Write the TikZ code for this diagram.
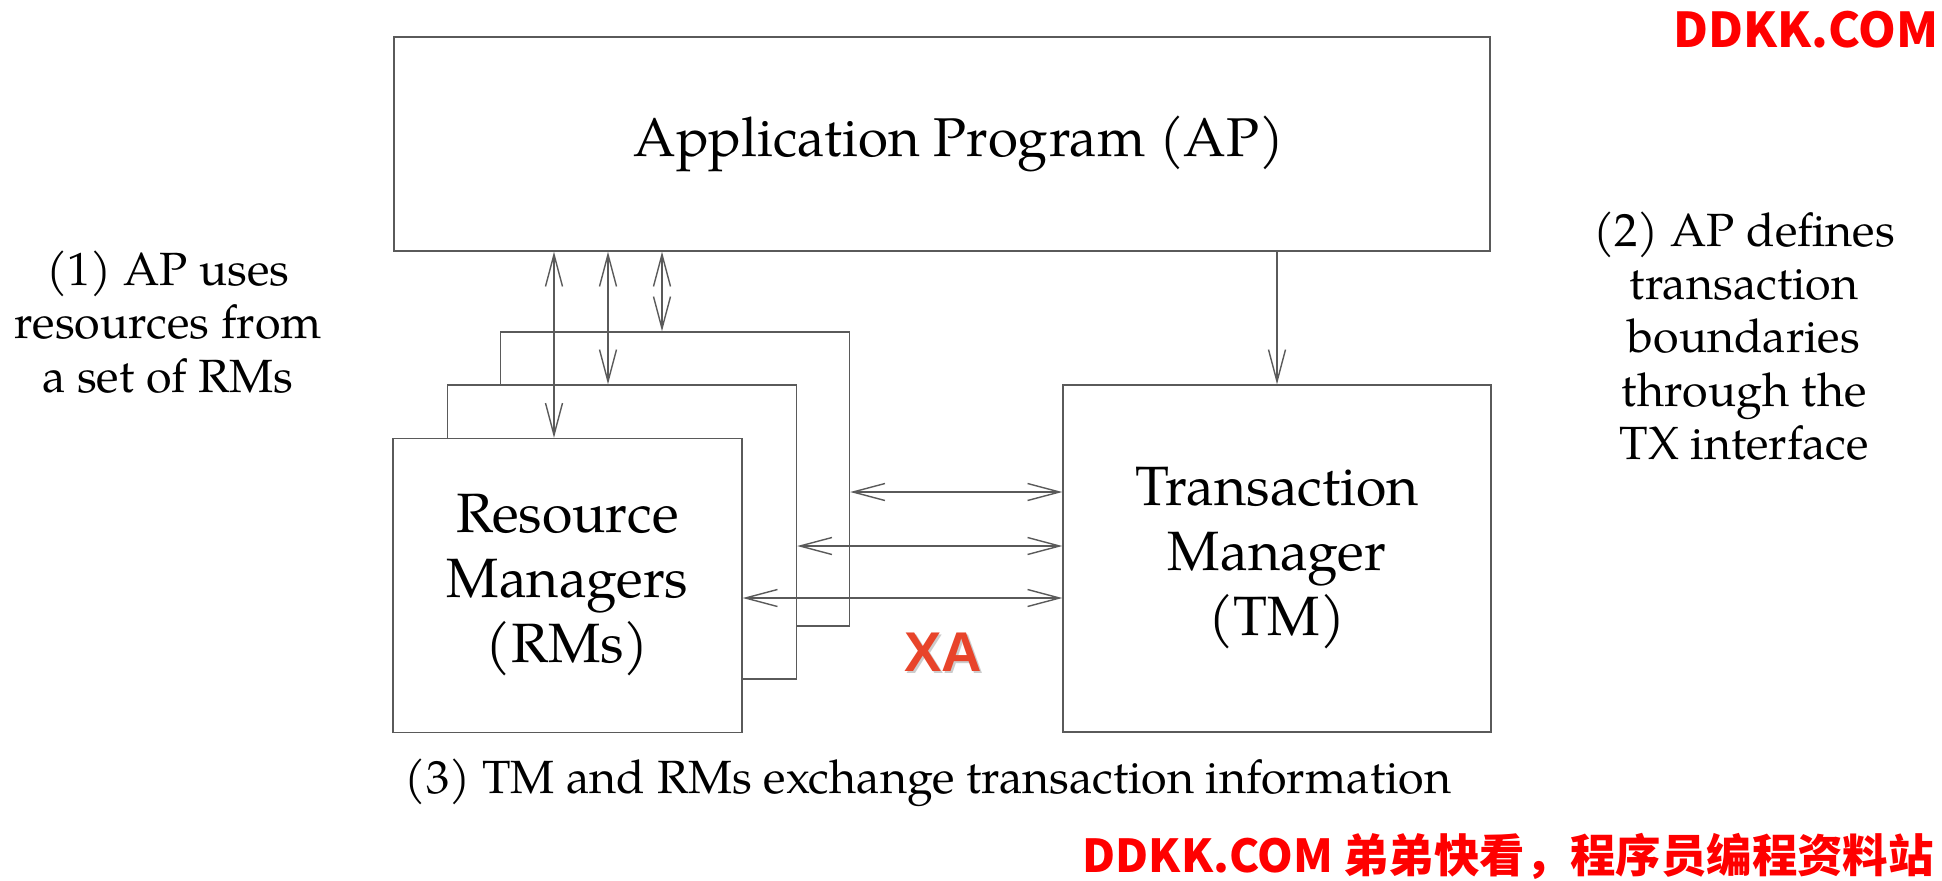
\documentclass[tikz,border=0pt]{standalone}
\usepackage{fontspec}
\setmainfont{TeX Gyre Pagella}
\newfontfamily\cjk{Noto Sans CJK SC}
\newfontfamily\xafont{Liberation Sans}
\usepackage{tikz}
\usetikzlibrary{arrows.meta,positioning}
\definecolor{xared}{RGB}{232,68,42}
\definecolor{edge}{RGB}{90,90,90}

\begin{document}
\begin{tikzpicture}[x=0.5pt,y=-0.5pt,
box/.style={draw=edge,line width=.7pt,fill=white,inner sep=0pt},
rm/.style={box,minimum width=174.5pt,minimum height=147pt},
big/.style={font=\fontsize{27.7}{32.5}\selectfont,align=center},
note/.style={font=\fontsize{23.3}{26.6}\selectfont,align=center},
arr/.style={draw=edge,line width=.7pt,-{Straight Barb[length=16pt,width=8.5pt]}},
dbl/.style={arr,{Straight Barb[length=16pt,width=8.5pt]}-{Straight Barb[length=16pt,width=8.5pt]}}]
\path[use as bounding box,fill=white](0,0)rectangle(1942,880);
% boxes
\node[box,big,font=\fontsize{27.3}{32.5}\selectfont,minimum width=548pt,minimum height=107pt](ap) at (942,144){\hspace*{17pt}Application Program (AP)};
\node[rm](rm3) at (675,479){};
\node[rm](rm2) at (622,532){};
\node[rm,big](rm1) at (567.5,585.5){Resource\\Managers\\(RMs)};
\node[box,big,minimum width=214pt,minimum height=173.5pt](tm) at (1277,558.5){Transaction\\Manager\\(TM)};
% notes
\node[note](n1) at (168,322){(1) AP uses\\resources from\\a set of RMs};
\node[note](n2) at (1744,336){(2) AP defines\\transaction\\boundaries\\through the\\TX interface};
\node[note](n3) at (928,783){(3) TM and RMs exchange transaction information};
\node[font=\xafont\bfseries\fontsize{28}{28}\selectfont,text=black!20](xas) at (945,654.5){XA};
\node[font=\xafont\bfseries\fontsize{28}{28}\selectfont,text=xared](xa) at (943,652){XA};
% watermarks
\node[font=\cjk\bfseries\fontsize{24}{24}\selectfont,text=red](wm1) at (1806,30){DDKK.COM};
\node[font=\cjk\bfseries\fontsize{22.7}{23}\selectfont,text=red,anchor=base east,inner sep=0pt](wm2) at (1934,872){DDKK.COM 弟弟快看，程序员编程资料站};
% arrows
\coordinate (v1) at (554,0);\coordinate (v2) at (608,0);\coordinate (v3) at (662,0);
\coordinate (h1) at (0,492);\coordinate (h2) at (0,546);\coordinate (h3) at (0,598);
\draw[dbl](ap.south -| v1)--(rm1.north -| v1);
\draw[dbl](ap.south -| v2)--(rm2.north -| v2);
\draw[dbl](ap.south -| v3)--(rm3.north -| v3);
\draw[arr](ap.south -| tm.north)--(tm.north);
\draw[dbl](rm3.east |- h1)--(tm.west |- h1);
\draw[dbl](rm2.east |- h2)--(tm.west |- h2);
\draw[dbl](rm1.east |- h3)--(tm.west |- h3);
\end{tikzpicture}
\end{document}
